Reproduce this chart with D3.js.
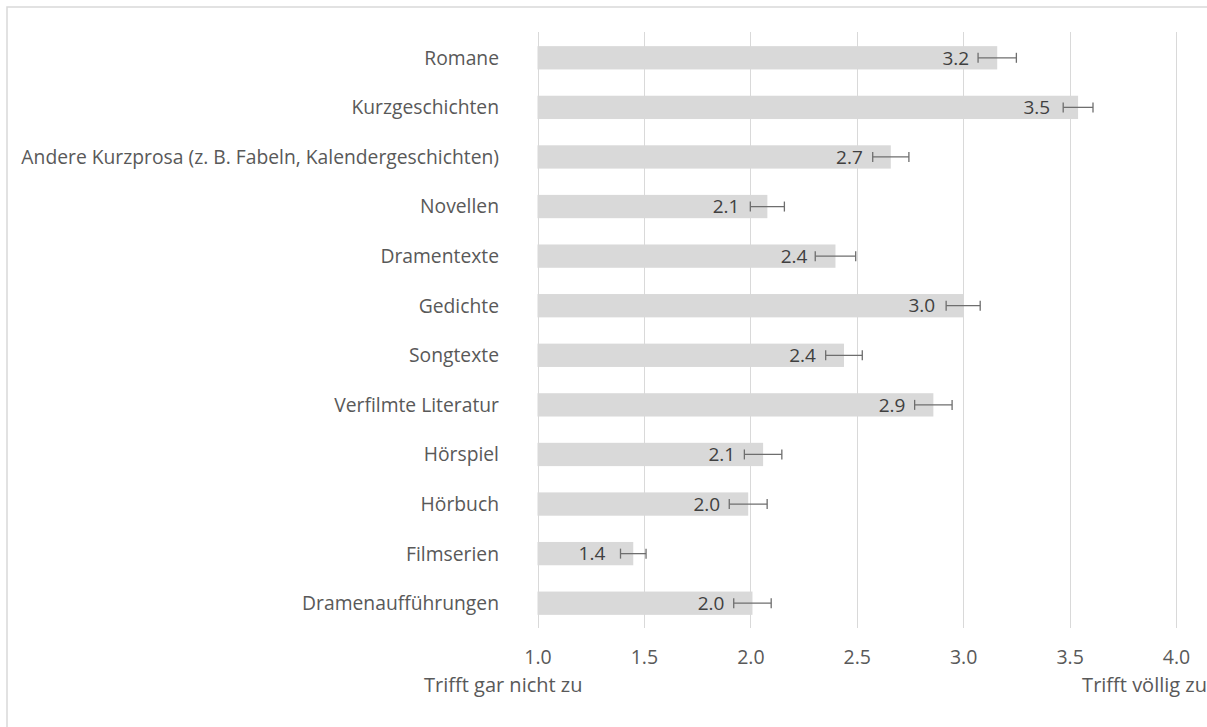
<!DOCTYPE html>
<html>
<head>
<meta charset="utf-8">
<script src="https://cdn.jsdelivr.net/npm/d3@7"></script>
<style>
  html, body { margin: 0; padding: 0; background: #fff; }
  svg { display: block; }
  text { font-family: "Open Sans", "Noto Sans", sans-serif; }
</style>
</head>
<body>
<svg id="chart" width="1207" height="727"></svg>
<script>
const categories = [
  "Romane",
  "Kurzgeschichten",
  "Andere Kurzprosa (z. B. Fabeln, Kalendergeschichten)",
  "Novellen",
  "Dramentexte",
  "Gedichte",
  "Songtexte",
  "Verfilmte Literatur",
  "Hörspiel",
  "Hörbuch",
  "Filmserien",
  "Dramenaufführungen"
];
const means  = [3.16, 3.54, 2.66, 2.08, 2.40, 3.00, 2.44, 2.86, 2.06, 1.99, 1.45, 2.01];
const errors = [0.09, 0.07, 0.085, 0.08, 0.095, 0.08, 0.086, 0.088, 0.088, 0.089, 0.06, 0.088];
const tickValues = [1.0, 1.5, 2.0, 2.5, 3.0, 3.5, 4.0];
const axisTitleLeft = "Trifft gar nicht zu";
const axisTitleRight = "Trifft völlig zu";

const svg = d3.select("#chart");

// outer chart border
svg.append("rect")
  .attr("x", 7).attr("y", 7)
  .attr("width", 1300).attr("height", 800)
  .attr("fill", "none")
  .attr("stroke", "#d9d9d9")
  .attr("stroke-width", 1.5);

const x = d3.scaleLinear().domain([1, 4]).range([537.5, 1176]);
const y = d3.scaleBand().domain(categories).range([33, 628])
  .paddingInner(0.53).paddingOuter(0.265);

// gridlines
svg.append("g").selectAll("line").data(tickValues).join("line")
  .attr("x1", d => Math.round(x(d)) + 0.5).attr("x2", d => Math.round(x(d)) + 0.5)
  .attr("y1", 32).attr("y2", 628)
  .attr("stroke", "#d9d9d9").attr("stroke-width", 1);

// x axis tick labels via d3 axis
const xAxis = d3.axisBottom(x).tickValues(tickValues).tickFormat(d3.format(".1f")).tickSize(0).tickPadding(0);
const gx = svg.append("g").attr("transform", "translate(0,664)").call(xAxis);
gx.select(".domain").remove();
gx.selectAll("text")
  .attr("dy", null).attr("y", 0)
  .attr("fill", "#595959")
  .style("font-size", "19.5px")
  .style("font-family", "'Open Sans', sans-serif");

// y axis category labels
const yAxis = d3.axisLeft(y).tickSize(0).tickPadding(0);
const gy = svg.append("g").attr("transform", "translate(499,0)").call(yAxis);
gy.select(".domain").remove();
gy.selectAll("text")
  .attr("dy", "0.357em")
  .attr("fill", "#595959")
  .style("font-size", "19.3px")
  .style("font-family", "'Open Sans', sans-serif");

// bars
svg.append("g").selectAll("rect").data(categories).join("rect")
  .attr("x", x(1))
  .attr("y", d => y(d))
  .attr("width", (d, i) => x(means[i]) - x(1))
  .attr("height", y.bandwidth())
  .attr("fill", "#d9d9d9");

// error bars
const eb = svg.append("g").attr("stroke", "#6e6e6e").attr("stroke-width", 1.3);
categories.forEach((c, i) => {
  const cy = y(c) + y.bandwidth() / 2;
  const x0 = x(means[i] - errors[i]), x1 = x(means[i] + errors[i]);
  eb.append("line").attr("x1", x0).attr("x2", x1).attr("y1", cy).attr("y2", cy);
  eb.append("line").attr("x1", x0).attr("x2", x0).attr("y1", cy - 5).attr("y2", cy + 5);
  eb.append("line").attr("x1", x1).attr("x2", x1).attr("y1", cy - 5).attr("y2", cy + 5);
});

// value labels
svg.append("g").selectAll("text").data(categories).join("text")
  .attr("x", (d, i) => x(means[i]) - 28)
  .attr("y", d => y(d) + y.bandwidth() / 2)
  .attr("dy", "0.357em")
  .attr("text-anchor", "end")
  .attr("fill", "#404040")
  .style("font-size", "19px")
  .text((d, i) => d3.format(".1f")(means[i]));

// axis end titles
svg.append("text").attr("x", 424).attr("y", 692)
  .attr("fill", "#595959").style("font-size", "20px")
  .text(axisTitleLeft);
svg.append("text").attr("x", 1207).attr("y", 692).attr("text-anchor", "end")
  .attr("fill", "#595959").style("font-size", "20px")
  .text(axisTitleRight);
</script>
</body>
</html>
